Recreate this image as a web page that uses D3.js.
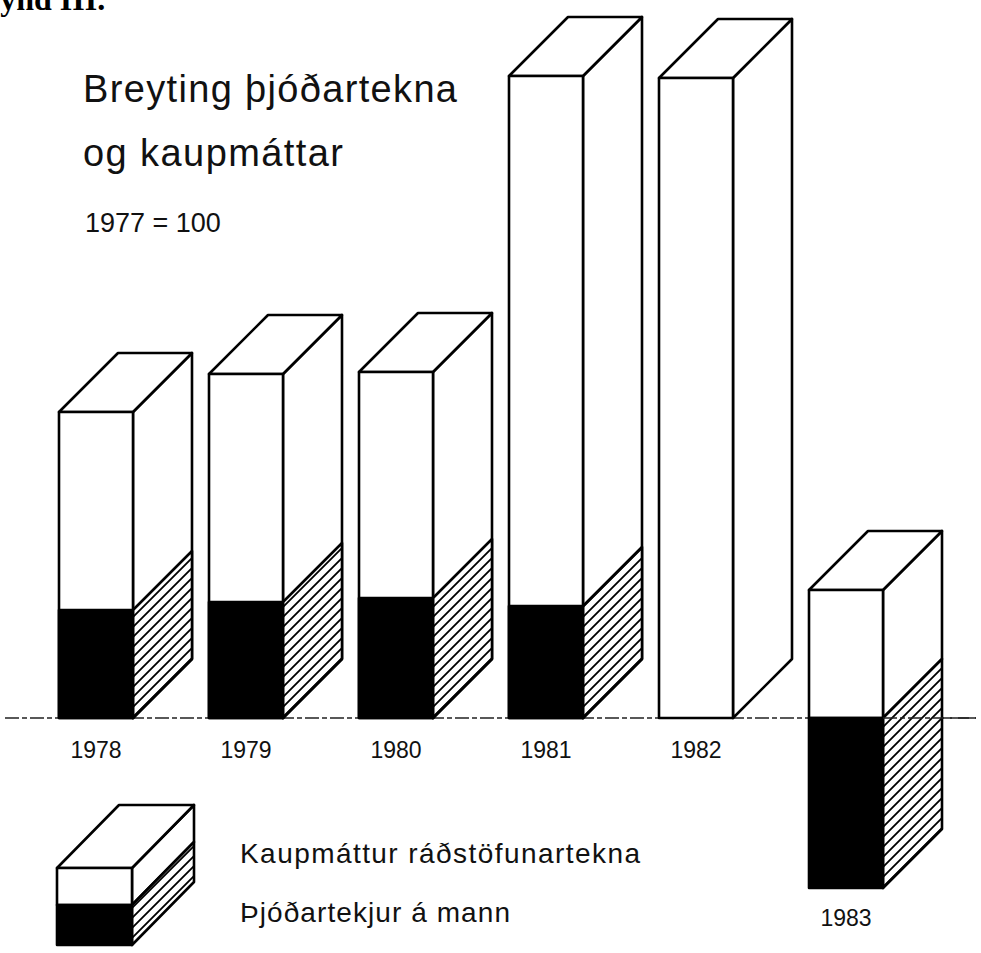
<!DOCTYPE html>
<html>
<head>
<meta charset="utf-8">
<script src="https://cdn.jsdelivr.net/npm/d3@7"></script>
<style>
  html, body { margin: 0; padding: 0; background: #fff; }
  svg { display: block; }
</style>
</head>
<body>
<div id="chart"></div>
<script>
// gögn lesin af myndinni (1977 = 100, breyting)
const years = ['1978', '1979', '1980', '1981', '1982', '1983'];
const kaupmattur = [7.65, 8.6, 8.65, 16.05, 16.0, 3.2];
const thjodartekjur = [2.7, 2.9, 3.0, 2.8, 0, -4.25];
const seriesNames = ['Kaupmáttur ráðstöfunartekna', 'Þjóðartekjur á mann'];

const width = 981, height = 953;
const depth = { dx: 59, dy: -59 };

const svg = d3.select('#chart')
    .append('svg')
    .attr('width', width)
    .attr('height', height)
    .attr('viewBox', '0 0 ' + width + ' ' + height);

// skástrikun á hliðum
svg.append('defs')
    .append('pattern')
    .attr('id', 'hatch')
    .attr('patternUnits', 'userSpaceOnUse')
    .attr('width', 10)
    .attr('height', 10)
    .call(p => {
        p.append('rect').attr('width', 10).attr('height', 10).attr('fill', '#fff');
        p.append('path')
            .attr('d', 'M0,10 L10,0 M-2,2 L2,-2 M8,12 L12,8')
            .attr('stroke', '#000')
            .attr('stroke-width', 1.8);
    });

const x = d3.scaleBand()
    .domain(years)
    .range([59, 883])
    .paddingInner(0.5067)
    .paddingOuter(0);

const y = d3.scaleLinear()
    .domain([0, 16])
    .range([718, 78]);

const data = years.map((d, i) => ({ year: d, k: kaupmattur[i], t: thjodartekjur[i] }));

const line = d3.line();

// teiknar kassa: framhlið, hlið og topp
const drawBox = (g, x0, w, yTop, yBot, front, side, top, dx, dy) => {
    g.append('path')
        .attr('d', line([[x0 + w, yTop], [x0 + w + dx, yTop + dy], [x0 + w + dx, yBot + dy], [x0 + w, yBot]]) + 'Z')
        .attr('fill', side);
    if (top) {
        g.append('path')
            .attr('d', line([[x0, yTop], [x0 + dx, yTop + dy], [x0 + w + dx, yTop + dy], [x0 + w, yTop]]) + 'Z')
            .attr('fill', '#fff');
    }
    g.append('rect')
        .attr('x', x0).attr('y', yTop)
        .attr('width', w).attr('height', yBot - yTop)
        .attr('fill', front);
};

// grunnlína
svg.append('line')
    .attr('x1', 5).attr('x2', 976)
    .attr('y1', y(0)).attr('y2', y(0))
    .attr('stroke', '#222')
    .attr('stroke-width', 1.3)
    .attr('stroke-dasharray', '14,3,5,3');

const bars = svg.append('g')
    .attr('class', 'bars')
    .attr('stroke', '#000')
    .attr('stroke-width', 2.6)
    .attr('stroke-linejoin', 'round');

data.forEach(d => {
    const g = bars.append('g').attr('class', 'bar');
    const x0 = x(d.year), w = x.bandwidth();
    drawBox(g, x0, w, y(Math.max(d.k, 0)), y(Math.min(d.k, 0)), '#fff', '#fff', true, depth.dx, depth.dy);
    if (d.t !== 0) {
        drawBox(g, x0, w, y(Math.max(d.t, 0)), y(Math.min(d.t, 0)), '#000', 'url(#hatch)', false, depth.dx, depth.dy);
    }
});

// grunnlína yfir hlið 1983
svg.append('line')
    .attr('x1', x('1983') + x.bandwidth()).attr('x2', 976)
    .attr('y1', y(0)).attr('y2', y(0))
    .attr('stroke', '#222')
    .attr('stroke-width', 1.3)
    .attr('stroke-dasharray', '14,3,5,3');

// ártöl
svg.append('g')
    .selectAll('text')
    .data(data)
    .enter()
    .append('text')
    .attr('x', d => x(d.year) + x.bandwidth() / 2)
    .attr('y', d => d.t < 0 ? y(d.t) + 38 : y(0) + 40)
    .attr('text-anchor', 'middle')
    .attr('font-family', 'Liberation Sans, Arial, sans-serif')
    .attr('font-size', 23)
    .attr('fill', '#111')
    .text(d => d.year);

// fyrirsögn
svg.append('text')
    .attr('x', -30).attr('y', 10)
    .attr('font-family', 'Liberation Serif, Times New Roman, serif')
    .attr('font-weight', 'bold')
    .attr('font-size', 32)
    .text('Mynd III.');

const title = svg.append('g')
    .attr('font-family', 'Liberation Sans, Arial, sans-serif')
    .attr('fill', '#111');
title.append('text')
    .attr('x', 83).attr('y', 102)
    .attr('font-size', 38)
    .attr('textLength', 374)
    .attr('lengthAdjust', 'spacing')
    .text('Breyting þjóðartekna');
title.append('text')
    .attr('x', 83).attr('y', 166)
    .attr('font-size', 38)
    .attr('textLength', 260)
    .attr('lengthAdjust', 'spacing')
    .text('og kaupmáttar');
title.append('text')
    .attr('x', 85).attr('y', 232)
    .attr('font-size', 27)
    .text('1977 = 100');

// skýringar
const legend = svg.append('g')
    .attr('stroke', '#000')
    .attr('stroke-width', 2.6)
    .attr('stroke-linejoin', 'round');
drawBox(legend, 57, 75, 868, 905, '#fff', '#fff', true, 62, -63);
drawBox(legend, 57, 75, 905, 945, '#000', 'url(#hatch)', false, 62, -63);

svg.append('g')
    .attr('font-family', 'Liberation Sans, Arial, sans-serif')
    .attr('font-size', 28)
    .attr('fill', '#111')
    .selectAll('text')
    .data(seriesNames)
    .enter()
    .append('text')
    .attr('x', 240)
    .attr('y', (d, i) => i === 0 ? 863 : 922)
    .attr('textLength', (d, i) => i === 0 ? 400 : 270)
    .attr('lengthAdjust', 'spacing')
    .text(d => d);
</script>
</body>
</html>
